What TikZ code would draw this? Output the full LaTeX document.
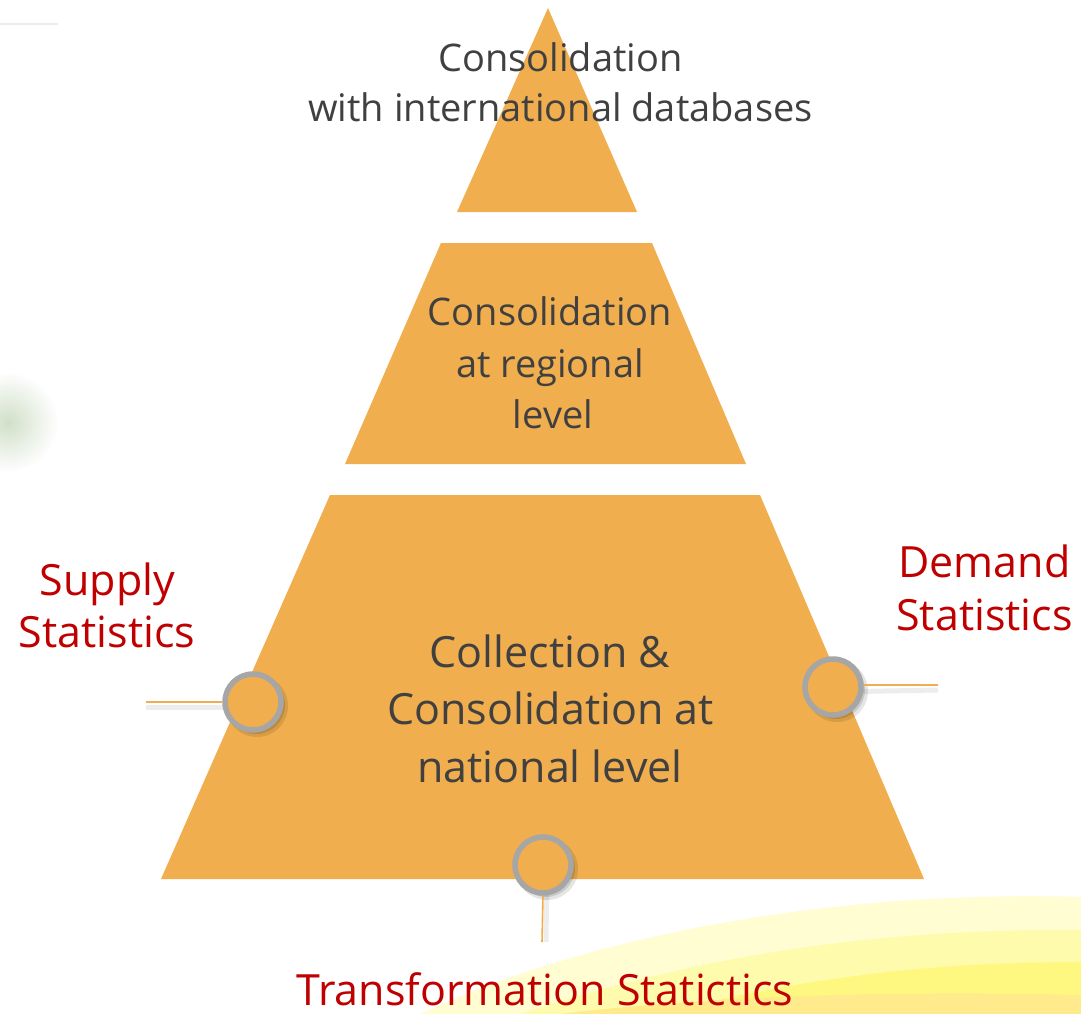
\documentclass[tikz,border=0pt]{standalone}
\usepackage{fontspec}
\setmainfont{Open Sans}
\usetikzlibrary{shadows,fadings}
\definecolor{pyr}{HTML}{F0AE4E}
\definecolor{txt}{HTML}{404040}
\definecolor{lab}{HTML}{C00000}
\definecolor{ring}{HTML}{A6A6A6}
\tikzset{
  tier/.style={fill=pyr, draw=none},
  tiertext/.style={anchor=base, text=txt, inner sep=0pt, font=\fontsize{38}{50}\selectfont},
  bigtext/.style={anchor=base, text=txt, inner sep=0pt, font=\fontsize{43}{57}\selectfont},
  labtext/.style={anchor=base, text=lab, inner sep=0pt, font=\fontsize{43}{52}\selectfont},
  dot/.style={circle, fill=pyr, draw=ring, line width=5.5pt, minimum size=56pt, inner sep=0pt},
  dotshadow/.style={circle, fill=black, draw=none, minimum size=62pt, inner sep=0pt},
  stem/.style={draw=pyr, line width=1.6pt},
  stemshadow/.style={draw=black, opacity=0.07, line width=5pt},
}
\begin{document}
\begin{tikzpicture}[x=1pt,y=-1pt]
\useasboundingbox (0,0) rectangle (1081,1014);
\fill[white] (0,0) rectangle (1081,1014);
% background decorations
\draw[black!7, line width=1.5pt] (0,24) -- (58,24);
\shade[inner color=olive!35!green!30!gray!55, outer color=white, opacity=0.55] (8,422) circle (50);
\fill[yellow!18] (420,1014) .. controls (600,930) and (850,890) .. (1081,897) -- (1081,1014) -- cycle;
\fill[yellow!32] (520,1014) .. controls (700,955) and (880,928) .. (1081,930) -- (1081,1014) -- cycle;
\fill[yellow!50] (660,1014) .. controls (800,978) and (930,962) .. (1081,962) -- (1081,1014) -- cycle;
\fill[orange!35!yellow!45] (560,1014) .. controls (700,997) and (880,990) .. (1081,995) -- (1081,1014) -- cycle;
% pyramid tiers
\path[tier] (548,8) -- (637,212) -- (457,212) -- cycle;
\path[tier] (441,243) -- (652,243) -- (746,464) -- (345,464) -- cycle;
\path[tier] (330,495) -- (760,495) -- (924,879) -- (161,879) -- cycle;
% texts
\node[tiertext] (t1) at (560.5,72) {Consolidation};
\node[tiertext] (t2) at (560.5,122) {with international databases};
\node[tiertext] (m1) at (550,325) {Consolidation};
\node[tiertext] (m2) at (550,377) {at regional};
\node[tiertext] (m3) at (553,428) {level};
\node[bigtext] (b1) at (550,667) {Collection \&};
\node[bigtext] (b2) at (550.5,724) {Consolidation at};
\node[bigtext] (b3) at (550,782) {national level};
\node[labtext] (s1) at (107.5,595) {Supply};
\node[labtext] (s2) at (107,647) {Statistics};
\node[labtext] (d1) at (984.5,577) {Demand};
\node[labtext] (d2) at (984.5,630) {Statistics};
\node[labtext] (tr) at (545,1005) {Transformation Statictics};
% connectors
\coordinate (lend) at (146,702);
\coordinate (rend) at (938,685);
\coordinate (bend) at (542,942);
\coordinate (lc) at (253,702);
\coordinate (rc) at (833,687);
\coordinate (bc) at (543,865);
\draw[stemshadow] ([yshift=-5pt]lend) -- ([yshift=-5pt]lc);
\draw[stemshadow] ([yshift=-5pt]rc) -- ([yshift=-5pt]rend);
\draw[stemshadow] ([xshift=4pt]bc) -- ([xshift=4pt]bend);
\foreach \c in {lc,rc,bc}{
  \node[dotshadow, opacity=0.10] at ([xshift=4pt,yshift=-4pt]\c) {};
  \node[dotshadow, opacity=0.12, minimum size=58pt] at ([xshift=3pt,yshift=-3pt]\c) {};
}
\node[dot] (lcirc) at (lc) {};
\node[dot] (rcirc) at (rc) {};
\node[dot] (bcirc) at (bc) {};
\draw[stem] (lend) -- (lcirc.west);
\draw[stem] (rcirc.east |- rend) -- (rend);
\draw[stem] (bcirc.south) -- (bend);
\end{tikzpicture}
\end{document}
